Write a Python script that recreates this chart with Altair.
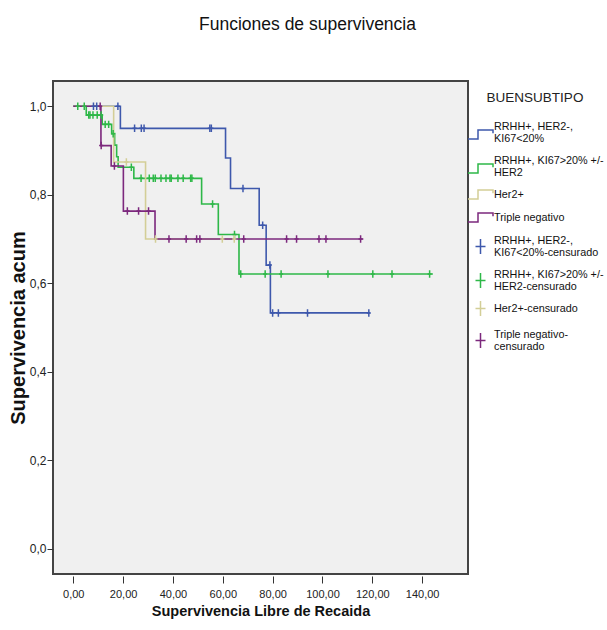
import altair as alt
import pandas as pd

# ---------------- data ----------------
groups = [
    "RRHH+, HER2-,|KI67<20%",
    "RRHH+, KI67>20% +/-|HER2",
    "Her2+",
    "Triple negativo",
]
cens_labels = [
    "RRHH+, HER2-,|KI67<20%-censurado",
    "RRHH+, KI67>20% +/-|HER2-censurado",
    "Her2+-censurado",
    "Triple negativo-|censurado",
]
colors = ["#3E58AC", "#2EB848", "#D3CE97", "#7C287D"]

# step functions: time points and survival values (step-after)
blue_t = [0, 18.9, 61.1, 63.1, 74.6, 77.4, 79.1, 119.0]
blue_s = [1.0, 0.95, 0.883, 0.814, 0.731, 0.641, 0.533, 0.533]
green_t = [0, 5.2, 11.6, 15.4, 16.6, 17.4, 18.0, 24.3, 51.5, 58.2, 66.5, 144.3]
green_s = [1.0, 0.98, 0.959, 0.938, 0.912, 0.886, 0.862, 0.837, 0.779, 0.710, 0.621, 0.621]
tan_t = [0, 16.2, 29.0, 64.6]
tan_s = [1.0, 0.874, 0.700, 0.700]
purple_t = [0, 11.1, 15.2, 20.1, 32.8, 116.4]
purple_s = [1.0, 0.911, 0.865, 0.763, 0.700, 0.700]

# censored observations
blue_ct = [8.1, 9.4, 17.9, 24.6, 27.3, 28.4, 54.8, 55.4, 68.1, 76.0, 78.9, 80.0, 82.3, 94.0, 118.6]
blue_cs = [1.0, 1.0, 1.0, 0.95, 0.95, 0.95, 0.95, 0.95, 0.814, 0.731, 0.641, 0.533, 0.533, 0.533, 0.533]
green_ct = [1.8, 4.4, 6.2, 6.7, 7.9, 9.6, 11.2, 12.8, 14.2, 16.0, 23.3,
            27.2, 30.5, 32.1, 32.9, 35.2, 37.2, 38.8, 39.3, 42.0, 44.1, 47.1, 47.6,
            55.9, 64.7, 67.2, 77.0, 83.4, 102.2, 120.2, 127.9, 143.0]
green_cs = [1.0, 1.0, 0.98, 0.98, 0.98, 0.98, 0.98, 0.959, 0.959, 0.938, 0.862,
            0.837, 0.837, 0.837, 0.837, 0.837, 0.837, 0.837, 0.837, 0.837, 0.837, 0.837, 0.837,
            0.779, 0.710, 0.621, 0.621, 0.621, 0.621, 0.621, 0.621, 0.621]
tan_ct = [21.3, 33.0, 59.8, 64.6]
tan_cs = [0.874, 0.700, 0.700, 0.700]
purple_ct = [10.8, 11.2, 16.5, 21.7, 26.2, 30.2, 38.4, 45.3, 49.5, 50.8, 68.4, 85.6, 89.6, 98.6, 101.4, 115.3]
purple_cs = [1.0, 0.911, 0.865, 0.763, 0.763, 0.763, 0.700, 0.700, 0.700, 0.700, 0.700, 0.700, 0.700, 0.700, 0.700, 0.700]

x_ticks = [0, 20, 40, 60, 80, 100, 120, 140]
y_ticks = [0.0, 0.2, 0.4, 0.6, 0.8, 1.0]

# ---------------- tables ----------------
rows = []
for g, ts, ss in zip(groups, [blue_t, green_t, tan_t, purple_t], [blue_s, green_s, tan_s, purple_s]):
    for i, (t, s) in enumerate(zip(ts, ss)):
        rows.append({"grupo": g, "t": t, "s": s, "o": i})
curves = pd.DataFrame(rows)

crow = []
for g, ts, ss in zip(cens_labels, [blue_ct, green_ct, tan_ct, purple_ct], [blue_cs, green_cs, tan_cs, purple_cs]):
    for t, s in zip(ts, ss):
        crow.append({"grupo": g, "t": t, "s": s})
cens = pd.DataFrame(crow)

FONT = "Liberation Sans, Arial, sans-serif"
# legend symbols: step line and plus; the "2" variants sit lower for two-line labels
STEP1 = "M-1,0.36H-0.2V-0.36H1V-0.1"
STEP2 = "M-1,1.0H-0.2V0.28H1V0.54"
PLUS1 = "M0,-0.6V0.6M-0.4,0H0.4"
PLUS2 = "M0,-0.12V1.08M-0.4,0.48H0.4"
CENS = "M0,-1V1M-0.55,0H0.55"

all_labels = groups + cens_labels
shape_range = [STEP2, STEP2, STEP1, STEP1, PLUS2, PLUS2, PLUS1, PLUS2]
# stroke scale (data marks, no legend) uses a differently ordered domain so that
# its disabled legend is not merged with the visible one
stroke_scale = alt.Scale(domain=cens_labels + groups, range=colors + colors)
color_scale = alt.Scale(domain=all_labels, range=colors + colors)
shape_scale = alt.Scale(domain=all_labels, range=shape_range)

xs = alt.Scale(domain=[-8.14, 158.4], nice=False, zero=False)
ys = alt.Scale(domain=[-0.057, 1.057], nice=False, zero=False)

x_axis = alt.Axis(
    values=x_ticks, labelExpr="replace(format(datum.value, '.2f'), '.', ',')",
    title="Supervivencia Libre de Recaida", titleFont=FONT, titleFontSize=14.5,
    titleFontWeight="bold", titleColor="#111", titlePadding=5,
    labelFont=FONT, labelFontSize=11, labelColor="#222", labelPadding=5,
    tickSize=7, tickColor="#333", domain=False, grid=False, offset=2,
)
y_axis = alt.Axis(
    values=y_ticks, labelExpr="replace(format(datum.value, '.1f'), '.', ',')",
    title="Supervivencia acum", titleFont=FONT, titleFontSize=20,
    titleFontWeight="bold", titleColor="#111", titlePadding=1,
    labelFont=FONT, labelFontSize=12, labelColor="#222", labelPadding=1,
    tickSize=6, tickColor="#333", domain=False, grid=False,
)

lines = alt.Chart(curves).mark_line(interpolate="step-after", strokeWidth=1.6).encode(
    x=alt.X("t:Q", scale=xs, axis=x_axis),
    y=alt.Y("s:Q", scale=ys, axis=y_axis),
    stroke=alt.Stroke("grupo:N", scale=stroke_scale, legend=None),
    detail="grupo:N",
    order="o:Q",
)

ticks = alt.Chart(cens).mark_point(filled=False, strokeWidth=1.5, opacity=1).encode(
    x=alt.X("t:Q", scale=xs),
    y=alt.Y("s:Q", scale=ys),
    stroke=alt.Stroke("grupo:N", scale=stroke_scale, legend=None),
    shape=alt.value(CENS),
    size=alt.value(56),
)

leg = dict(
    title="BUENSUBTIPO", orient="none", legendX=414, legendY=10,
    titleFont=FONT, titleFontSize=13.5, titleFontWeight="normal", titleColor="#222",
    titlePadding=8.5, titleAnchor="middle",
    labelFont=FONT, labelFontSize=10.8, labelColor="#111",
    labelExpr="split(datum.label, '|')", labelOffset=0, labelLimit=200,
    symbolSize=625, symbolStrokeWidth=1.5, symbolOpacity=1,
    symbolFillColor="transparent", rowPadding=2, padding=0,
)

legend_df = pd.DataFrame({"grupo": all_labels})
legend_layer = alt.Chart(legend_df).mark_point(filled=False, opacity=0, strokeWidth=1.5).encode(
    color=alt.Color("grupo:N", scale=color_scale, legend=alt.Legend(**leg)),
    shape=alt.Shape("grupo:N", scale=shape_scale, legend=alt.Legend(**leg)),
)

chart = alt.layer(lines, ticks, legend_layer).properties(
    width=415, height=493,
    background="white",
    view=alt.ViewBackground(fill="#F0F0F0", stroke="#444444", strokeWidth=2),
    title=alt.TitleParams(
        "Funciones de supervivencia", font=FONT, fontSize=17.5, fontWeight="normal",
        color="#111", anchor="middle", dx=47, offset=48,
    ),
    autosize=alt.AutoSizeParams(type="none"),
    padding={"left": 53, "top": 81, "right": 139, "bottom": 56},
).configure_view(
    fill="#F0F0F0", stroke="#444444", strokeWidth=2,
)

chart.save("out.html", embed_options={"renderer": "svg", "actions": False})
